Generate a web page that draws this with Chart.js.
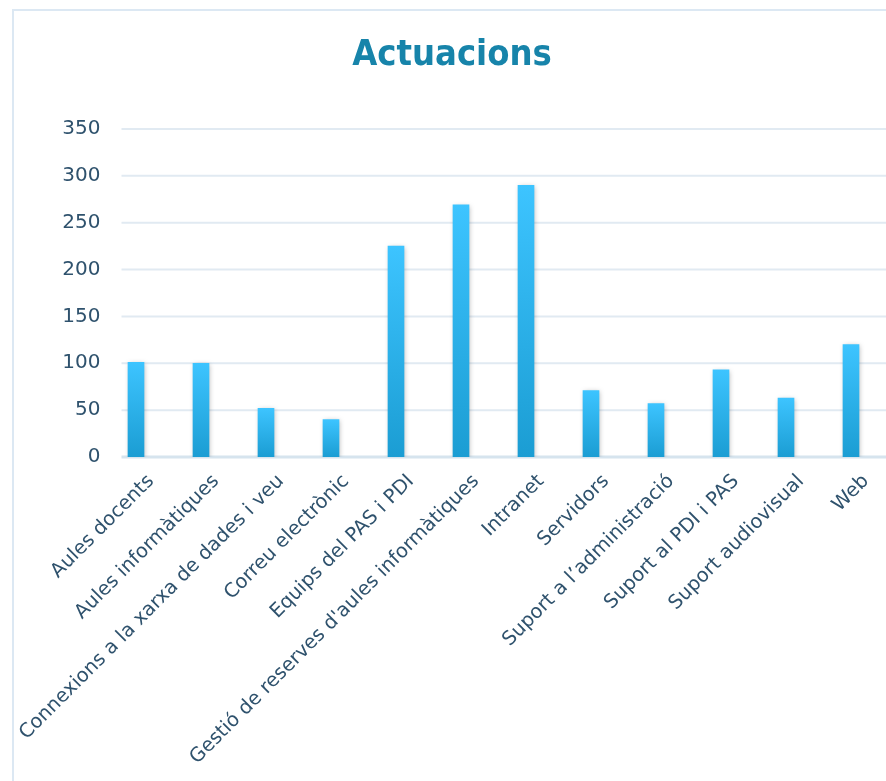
<!DOCTYPE html>
<html>
<head>
<meta charset="utf-8">
<script src="https://cdn.jsdelivr.net/npm/chart.js@4.4.0/dist/chart.umd.min.js"></script>
<style>
  html, body { margin: 0; padding: 0; background: #fff; overflow: hidden; }
  #marc { position: absolute; left: 12px; top: 9px; width: 1000px; height: 1000px;
          border-left: 2px solid #dce8f3; border-top: 2px solid #dce8f3; }
  #grafica { position: absolute; left: 0; top: 0; }
</style>
</head>
<body>
<div id="marc"></div>
<canvas id="grafica" width="886" height="781"></canvas>
<script>
const categories = [
  "Aules docents",
  "Aules informàtiques",
  "Connexions a la xarxa de dades i veu",
  "Correu electrònic",
  "Equips del PAS i PDI",
  "Gestió de reserves d'aules informàtiques",
  "Intranet",
  "Servidors",
  "Suport a l’administració",
  "Suport al PDI i PAS",
  "Suport audiovisual",
  "Web",
];
const actuacions = [101, 100, 52, 40, 225, 269, 290, 71, 57, 93, 63, 120];
const eixMin = 0;
const eixMax = 350;
const eixPas = 50;

const colorText = "#2f526d";

// degradat per barra: clar a dalt, fosc a baix
function colorBarra(context) {
  const chart = context.chart;
  if (!chart.chartArea || context.type !== "data") return "#2fb3ec";
  const y = chart.scales.y;
  const dalt = y.getPixelForValue(context.parsed.y);
  const baix = y.getPixelForValue(0);
  const g = chart.ctx.createLinearGradient(0, dalt, 0, baix);
  g.addColorStop(0, "#3dc4ff");
  g.addColorStop(1, "#1b9dd3");
  return g;
}

// linies de la graella (comencen una mica a la dreta de l'eix) + ombra de les barres
const graellaIOmbra = {
  id: "graellaIOmbra",
  beforeDatasetsDraw(chart) {
    const { ctx, chartArea, scales: { y } } = chart;
    ctx.save();
    y.ticks.forEach((t) => {
      const py = y.getPixelForValue(t.value);
      ctx.beginPath();
      ctx.lineWidth = t.value === 0 ? 3 : 2;
      ctx.strokeStyle = t.value === 0 ? "#d6e4ee" : "#e1eaf2";
      ctx.moveTo(chartArea.left + 18, py);
      ctx.lineTo(chart.width, py);
      ctx.stroke();
    });
    ctx.restore();
    ctx.save();
    ctx.shadowColor = "rgba(0,0,0,0.28)";
    ctx.shadowBlur = 5;
    ctx.shadowOffsetX = 1;
    ctx.shadowOffsetY = 1;
  },
  afterDatasetsDraw(chart) {
    chart.ctx.restore();
  },
};

new Chart(document.getElementById("grafica"), {
  type: "bar",
  data: {
    labels: categories,
    datasets: [
      {
        label: "Actuacions",
        data: actuacions,
        backgroundColor: colorBarra,
        barThickness: 16,
      },
    ],
  },
  options: {
    responsive: false,
    animation: false,
    layout: { padding: { left: 20.5, right: 2.5, top: 0, bottom: 0 } },
    plugins: {
      legend: { display: false },
      tooltip: { enabled: false },
      title: {
        display: true,
        text: "Actuacions",
        color: "#1784aa",
        font: { family: "DejaVu Sans Condensed", size: 36, weight: "bold" },
        padding: { top: 34, bottom: 51.8 },
      },
    },
    scales: {
      x: {
        grid: { display: false },
        border: { display: false },
        ticks: {
          color: colorText,
          font: { family: "DejaVu Sans", size: 19.5 },
          maxRotation: 45,
          minRotation: 45,
          autoSkip: false,
          labelOffset: 15,
          padding: 5,
        },
        afterFit: (s) => { s.height = 324; },
      },
      y: {
        min: eixMin,
        max: eixMax,
        grid: { display: false, drawTicks: false },
        border: { display: false },
        ticks: {
          stepSize: eixPas,
          color: colorText,
          font: { family: "DejaVu Sans", size: 20 },
          padding: 3,
        },
        afterFit: (s) => { s.width = 83; },
      },
    },
  },
  plugins: [graellaIOmbra],
});
</script>
</body>
</html>
